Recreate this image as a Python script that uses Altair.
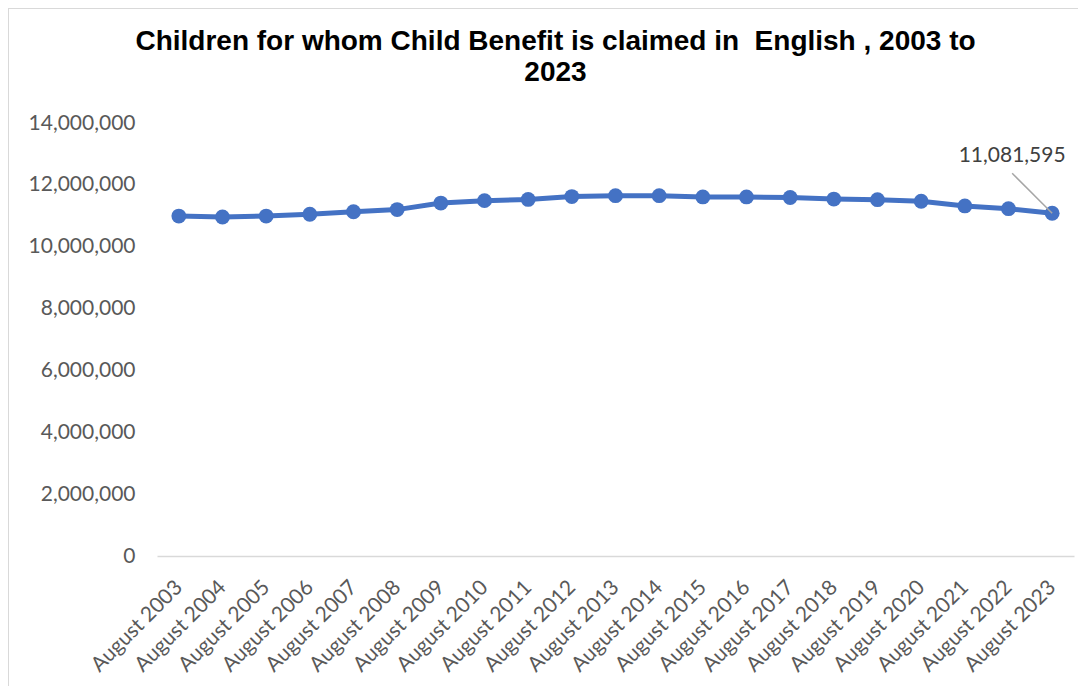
import altair as alt
import pandas as pd

years = list(range(2003, 2024))
categories = [f"August {y}" for y in years]
values = [
    10990000, 10960000, 10990000, 11050000, 11130000, 11200000, 11410000,
    11490000, 11530000, 11620000, 11650000, 11650000, 11610000, 11610000,
    11590000, 11540000, 11520000, 11470000, 11320000, 11230000, 11081595,
]
label_text = "11,081,595"
title_lines = ["Children for whom Child Benefit is claimed in\u00a0 English , 2003 to", "2023"]

df = pd.DataFrame({"period": categories, "children": values})
last = df.tail(1).assign(label=label_text)

BLUE = "#4472C4"
GREY_TXT = "#595959"
LABEL_FONT = "Lato"

x_enc = alt.X(
    "period:N",
    sort=categories,
    scale=alt.Scale(type="point", padding=0.5),
    axis=alt.Axis(
        title=None,
        labelAngle=-45,
        labelAlign="right",
        labelBaseline="middle",
        labelFont=LABEL_FONT,
        labelFontSize=21,
        labelColor=GREY_TXT,
        labelPadding=28,
        ticks=False,
        domain=True,
        domainColor="#D9D9D9",
        domainWidth=1.5,
        grid=False,
    ),
)
y_enc = alt.Y(
    "children:Q",
    scale=alt.Scale(domain=[0, 14000000], nice=False),
    axis=alt.Axis(
        title=None,
        values=list(range(0, 14000001, 2000000)),
        format=",d",
        labelFont=LABEL_FONT,
        labelFontSize=21,
        labelColor=GREY_TXT,
        labelPadding=22,
        ticks=False,
        domain=False,
        grid=False,
    ),
)

line = alt.Chart(df).mark_line(
    color=BLUE, strokeWidth=5,
    point=alt.OverlayMarkDef(filled=True, size=220, color=BLUE, opacity=1),
).encode(x=x_enc, y=y_enc)

leader = alt.Chart(last).mark_rule(
    color="#A6A6A6", strokeWidth=1.5, x2Offset=-40, y2Offset=-40
).encode(x="period:N", x2="period:N", y="children:Q", y2="children:Q")

label = alt.Chart(last).mark_text(
    font=LABEL_FONT, fontSize=21, color="#404040", dx=-40, dy=-57
).encode(x="period:N", y="children:Q", text="label:N")

border_top = alt.Chart(last).mark_rule(color="#D9D9D9", strokeWidth=2).encode(
    x=alt.value(-149), x2=alt.value(930), y=alt.value(-115)
)
border_left = alt.Chart(last).mark_rule(color="#D9D9D9", strokeWidth=2).encode(
    x=alt.value(-149), y=alt.value(-115), y2=alt.value(580)
)

chart = alt.layer(border_top, border_left, line, leader, label).properties(
    width=917,
    height=433,
    autosize=alt.AutoSizeParams(type="none"),
    padding={"left": 149, "top": 115, "right": 4, "bottom": 130},
    background="white",
    title=alt.TitleParams(
        text=title_lines,
        font="Liberation Sans",
        fontSize=28,
        fontWeight="bold",
        color="#000000",
        anchor="middle",
        dx=-60,
        offset=-80,
        lineHeight=31,
    ),
).configure_view(stroke=None)

chart.save("out.html", embed_options={"renderer": "svg", "actions": False})
